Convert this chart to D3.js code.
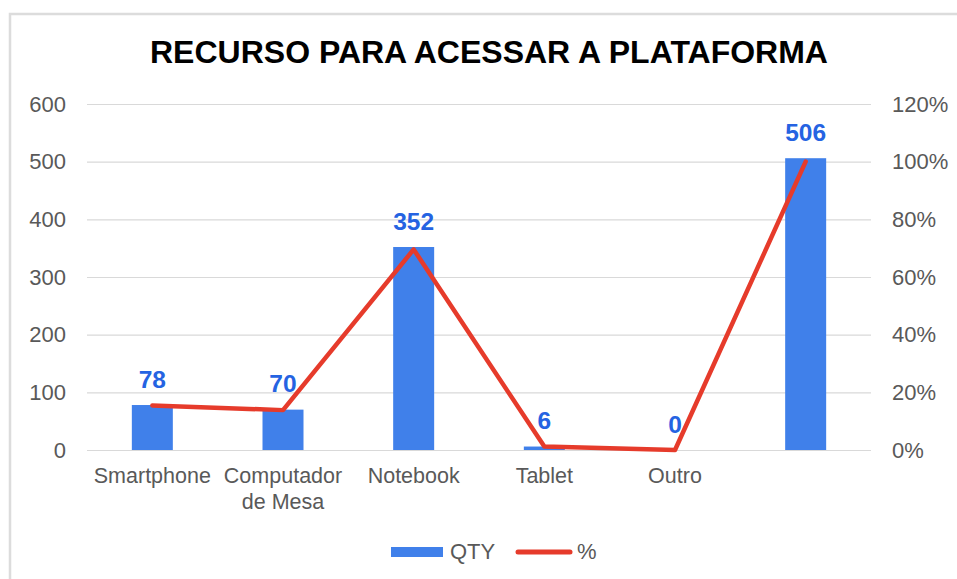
<!DOCTYPE html>
<html>
<head>
<meta charset="utf-8">
<script src="https://cdn.jsdelivr.net/npm/d3@7"></script>
<style>
  body { margin: 0; background: #fff; }
  svg { display: block; font-family: 'Liberation Sans', Arial, sans-serif; }
</style>
</head>
<body>
<div id="chart"></div>
<script>

// DATA

var categories = ['Smartphone', 'Computador\nde Mesa', 'Notebook', 'Tablet', 'Outro', ''];
var qty = [78, 70, 352, 6, 0, 506];
var pct = [0.1542, 0.1383, 0.6957, 0.0119, 0, 1.0];
var leftTicks = [0, 100, 200, 300, 400, 500, 600];
var rightTicks = [0, 0.2, 0.4, 0.6, 0.8, 1.0, 1.2];
var title = 'RECURSO PARA ACESSAR A PLATAFORMA';

var width = 957, height = 579;
var margin = { left: 87, right: 86, top: 104, bottom: 129 };
var plotW = width - margin.left - margin.right;
var plotH = height - margin.top - margin.bottom;

var svg = d3.select('#chart')
  .append('svg')
    .attr('width', width)
    .attr('height', height);

svg.append('rect')
  .attr('width', width)
  .attr('height', height)
  .attr('fill', '#fff');

// chart frame (cropped at right and bottom)
svg.append('rect')
  .attr('x', 10)
  .attr('y', 14)
  .attr('width', 1200)
  .attr('height', 1200)
  .attr('fill', 'none')
  .attr('stroke', '#dcdcdc')
  .attr('stroke-width', 2.5);

svg.append('text')
  .text(title)
  .attr('x', 489)
  .attr('y', 63)
  .attr('text-anchor', 'middle')
  .attr('font-size', 31.5)
  .attr('font-weight', 'bold')
  .attr('textLength', 678)
  .attr('lengthAdjust', 'spacingAndGlyphs')
  .attr('fill', '#000');

var g = svg.append('g')
  .attr('transform', 'translate(' + margin.left + ',' + margin.top + ')');

// SCALES

var x = d3.scaleBand()
  .domain(categories)
  .range([0, plotW]);

var yLeft = d3.scaleLinear().domain([0, 600]).range([plotH, 0]);
var yRight = d3.scaleLinear().domain([0, 1.2]).range([plotH, 0]);

// AXES

var leftAxis = g.append('g')
  .call(d3.axisLeft(yLeft).tickValues(leftTicks).tickSize(-plotW).tickPadding(21));
leftAxis.select('.domain').remove();
leftAxis.selectAll('line').attr('stroke', '#d9d9d9').attr('stroke-width', 1.2);
leftAxis.selectAll('text')
  .attr('font-size', 22)
  .attr('fill', '#595959')
  .attr('font-family', 'Liberation Sans, Arial, sans-serif');

var rightAxis = g.append('g')
  .attr('transform', 'translate(' + plotW + ',0)')
  .call(d3.axisRight(yRight).tickValues(rightTicks).tickFormat(d3.format('.0%')).tickSize(0).tickPadding(21));
rightAxis.select('.domain').remove();
rightAxis.selectAll('text')
  .attr('font-size', 22)
  .attr('fill', '#595959')
  .attr('font-family', 'Liberation Sans, Arial, sans-serif');

// category labels
var catLabels = g.selectAll('text.cat')
  .data(categories)
  .enter().append('text')
    .attr('class', 'cat')
    .attr('text-anchor', 'middle')
    .attr('font-size', 21.5)
    .attr('fill', '#595959')
    .attr('transform', function(d) { return 'translate(' + (x(d) + x.bandwidth() / 2) + ',' + (plotH + 33) + ')' });

catLabels.selectAll('tspan')
  .data(function(d) { return d.split('\n') })
  .enter().append('tspan')
    .attr('x', 0)
    .attr('y', function(d, i) { return i * 26 })
    .text(function(d) { return d });

// BARS

var barW = 41;

g.selectAll('rect.bar')
  .data(qty)
  .enter().append('rect')
    .attr('class', 'bar')
    .attr('x', function(d, i) { return x(categories[i]) + x.bandwidth() / 2 - barW / 2 })
    .attr('y', function(d) { return yLeft(d) })
    .attr('width', barW)
    .attr('height', function(d) { return plotH - yLeft(d) })
    .attr('fill', '#4080ea');

// LINE

var line = d3.line()
  .x(function(d, i) { return x(categories[i]) + x.bandwidth() / 2 })
  .y(function(d) { return yRight(d) });

g.append('path')
  .datum(pct)
  .attr('d', line)
  .attr('fill', 'none')
  .attr('stroke', '#e63b2b')
  .attr('stroke-width', 4.5)
  .attr('stroke-linejoin', 'round')
  .attr('stroke-linecap', 'round');

// VALUE LABELS

g.selectAll('text.value')
  .data(qty)
  .enter().append('text')
    .attr('class', 'value')
    .text(function(d) { return d })
    .attr('x', function(d, i) { return x(categories[i]) + x.bandwidth() / 2 })
    .attr('y', function(d) { return yLeft(d) - 17.5 })
    .attr('text-anchor', 'middle')
    .attr('font-size', 24.5)
    .attr('font-weight', 'bold')
    .attr('fill', '#2563e2');

// LEGEND

var legend = svg.append('g');

legend.append('rect')
  .attr('x', 391)
  .attr('y', 547)
  .attr('width', 52)
  .attr('height', 10)
  .attr('fill', '#4080ea');

legend.append('text')
  .text('QTY')
  .attr('x', 450)
  .attr('y', 559)
  .attr('font-size', 22)
  .attr('fill', '#595959');

legend.append('line')
  .attr('x1', 518)
  .attr('x2', 570)
  .attr('y1', 552)
  .attr('y2', 552)
  .attr('stroke', '#e63b2b')
  .attr('stroke-width', 5)
  .attr('stroke-linecap', 'round');

legend.append('text')
  .text('%')
  .attr('x', 577)
  .attr('y', 559)
  .attr('font-size', 22)
  .attr('fill', '#595959');

</script>
</body>
</html>
